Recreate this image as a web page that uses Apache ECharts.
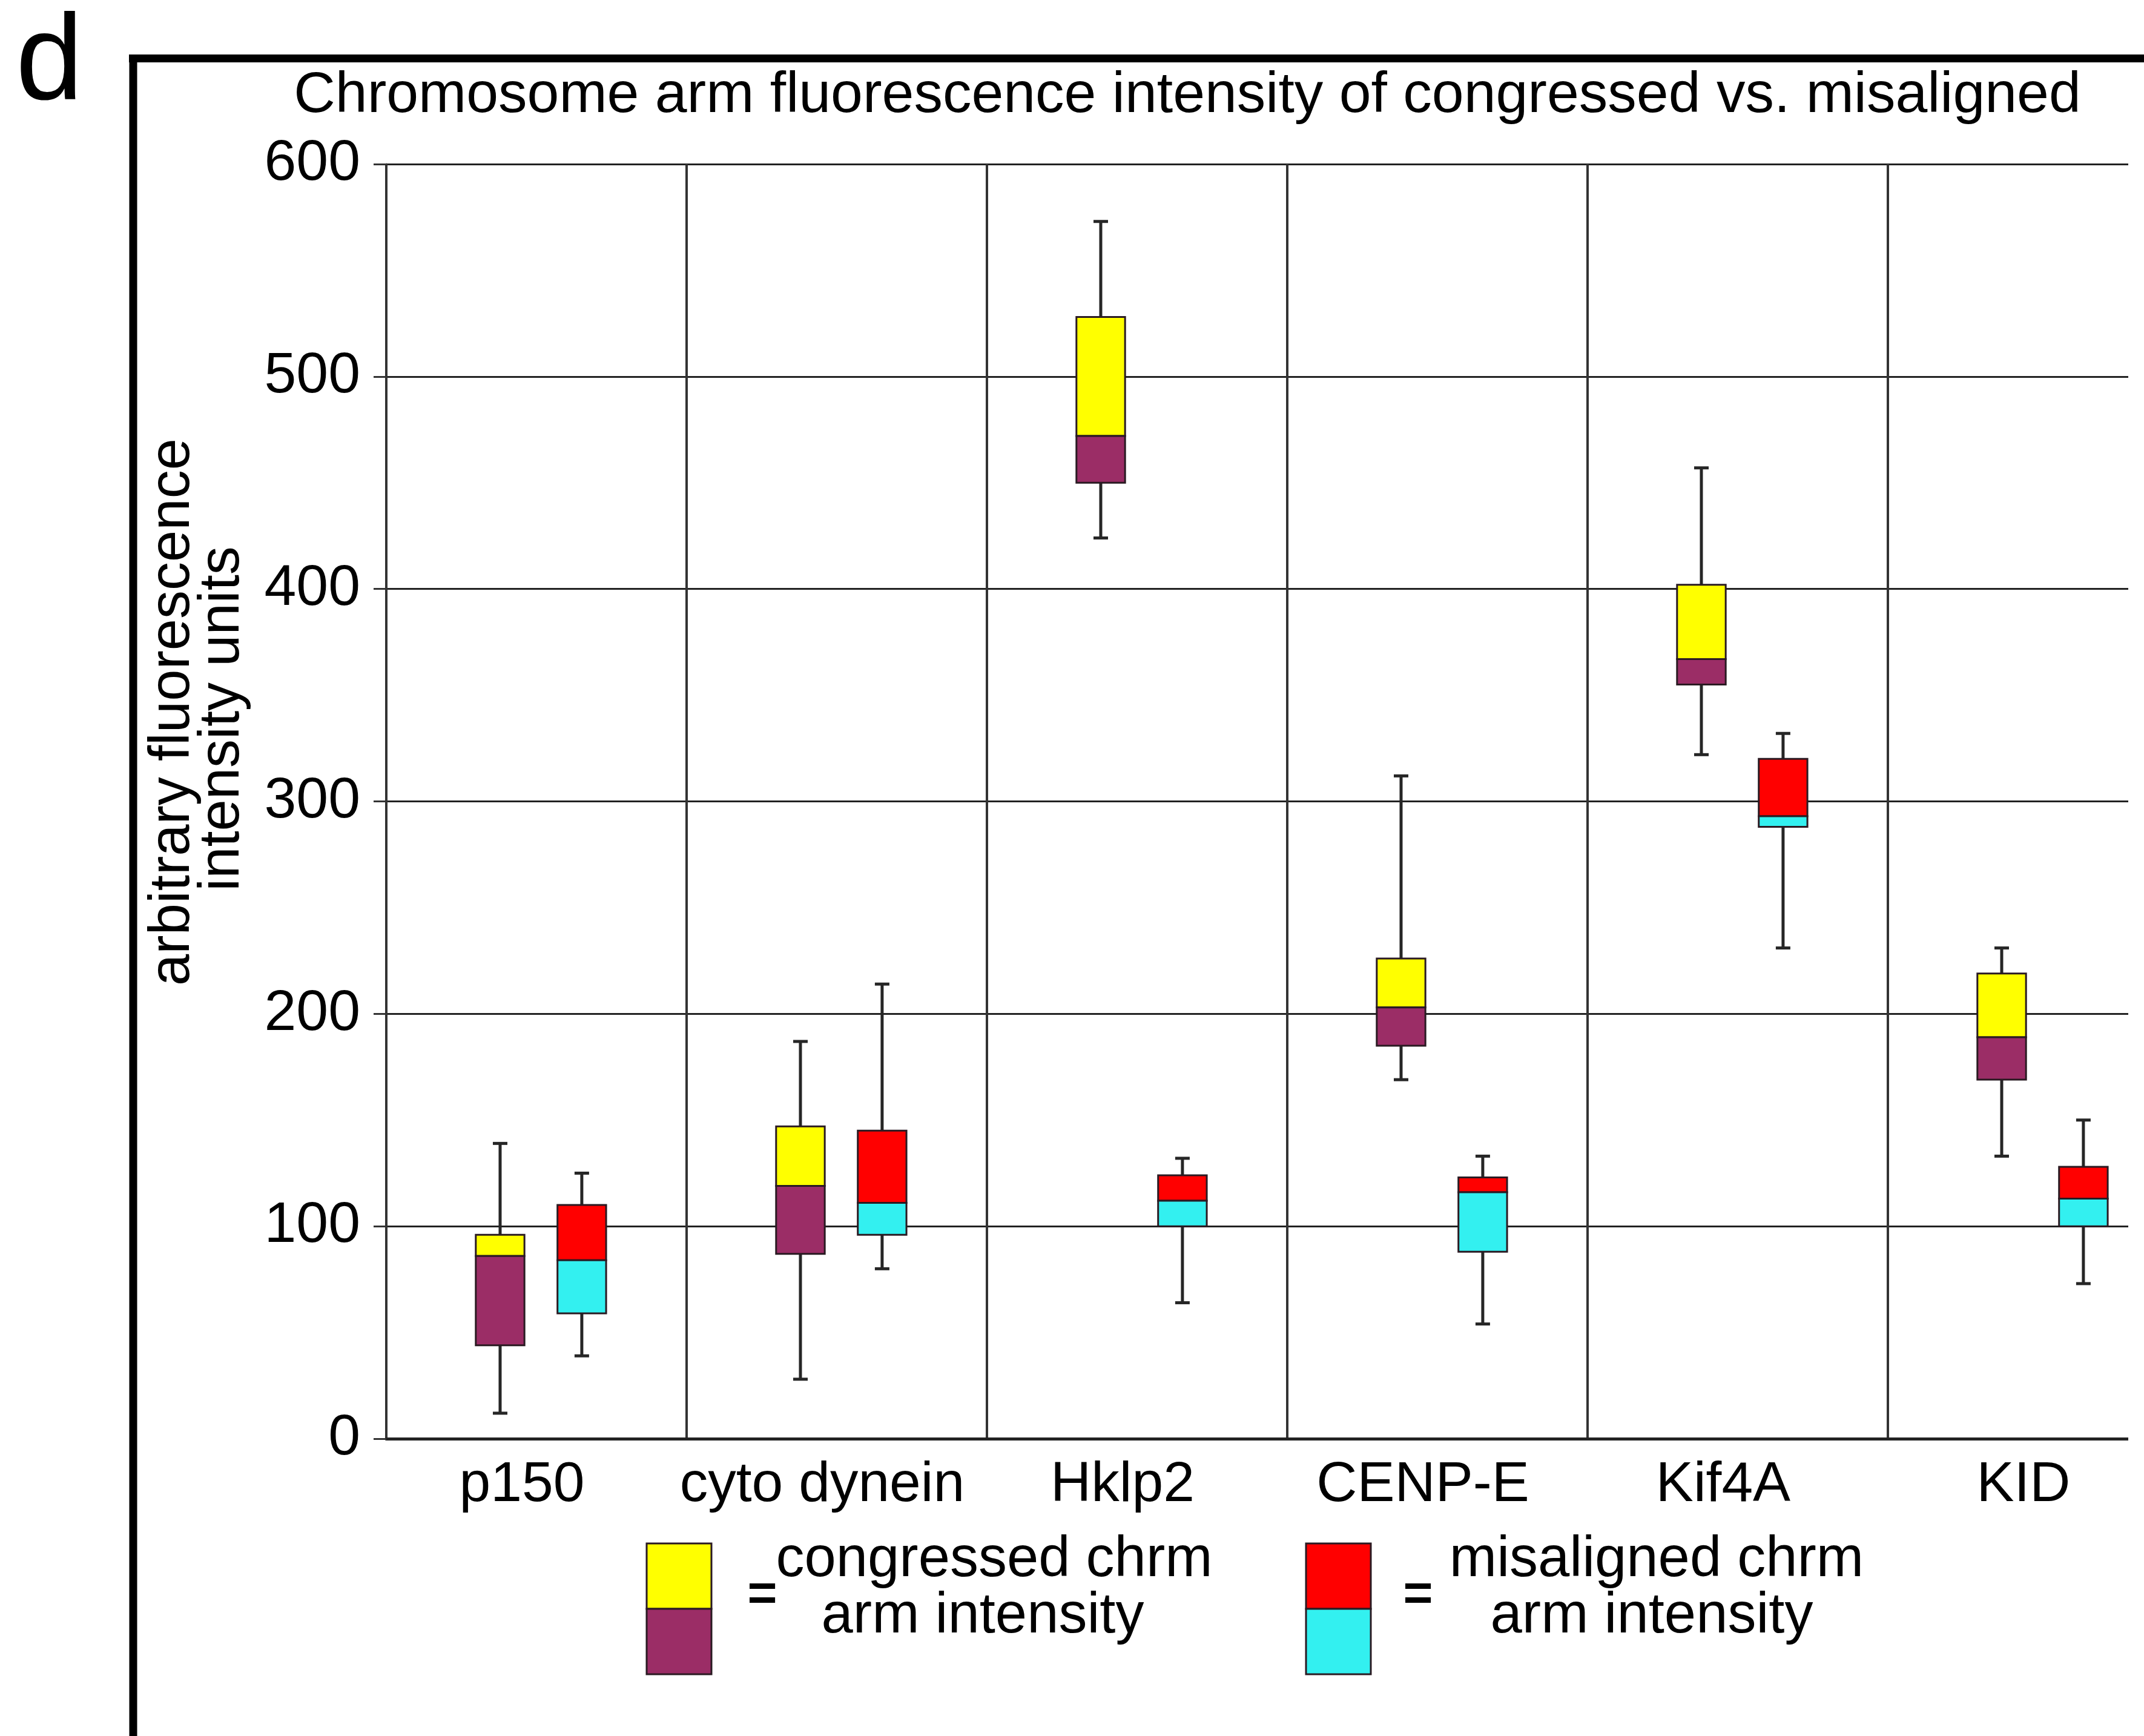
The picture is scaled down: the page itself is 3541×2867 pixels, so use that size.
<!DOCTYPE html>
<html>
<head>
<meta charset="utf-8">
<script src="https://cdn.jsdelivr.net/npm/echarts@6/dist/echarts.min.js"></script>
<style>
html,body{margin:0;padding:0;background:#fff;overflow:hidden;}
#chart{width:3614px;height:2867px;}
</style>
</head>
<body>
<div id="chart"></div>
<script>
// ---- data ----
const categories = ['p150', 'cyto dynein', 'Hklp2', 'CENP-E', 'Kif4A', 'KID'];
// [min, q1, median, q3, max]
const congressed = [
  [12, 44, 86, 96, 139],
  [28, 87, 119, 147, 187],
  [424, 450, 472, 528, 573],
  [169, 185, 203, 226, 312],
  [322, 355, 367, 402, 457],
  [133, 169, 189, 219, 231]
];
const misaligned = [
  [39, 59, 84, 110, 125],
  [80, 96, 111, 145, 214],
  [64, 100, 112, 124, 132],
  [54, 88, 116, 123, 133],
  [231, 288, 293, 320, 332],
  [73, 100, 113, 128, 150]
];
const yTicks = [0, 100, 200, 300, 400, 500, 600];
const titleText = 'Chromosome arm fluorescence intensity of congressed vs. misaligned';
const yNameLines = ['arbitrary fluorescence', 'intensity units'];
const legendLabels = [['congressed chrm', 'arm intensity'], ['misaligned chrm', 'arm intensity']];

// ---- styles ----
const FONT = '"Liberation Sans", Arial, Helvetica, sans-serif';
const colors = {
  congressed: ['#FFFF00', '#9B2D66'],
  misaligned: ['#FF0000', '#33F0F0']
};

function makeRender(offsetFrac, cols) {
  return function (params, api) {
    const ci = api.value(0);
    const band = api.size([1, 0])[0];
    const cx = api.coord([ci, 0])[0] + offsetFrac * band;
    const w = band * 0.162;
    const capW = 24;
    const yMin = api.coord([ci, api.value(1)])[1];
    const yQ1 = api.coord([ci, api.value(2)])[1];
    const yMed = api.coord([ci, api.value(3)])[1];
    const yQ3 = api.coord([ci, api.value(4)])[1];
    const yMax = api.coord([ci, api.value(5)])[1];
    const lineStyle = {stroke: '#262626', lineWidth: 5};
    const boxStroke = '#2a1a22';
    return {
      type: 'group',
      children: [
        {type: 'line', shape: {x1: cx, y1: yMax, x2: cx, y2: yMin}, style: lineStyle},
        {type: 'line', shape: {x1: cx - capW / 2, y1: yMax, x2: cx + capW / 2, y2: yMax}, style: lineStyle},
        {type: 'line', shape: {x1: cx - capW / 2, y1: yMin, x2: cx + capW / 2, y2: yMin}, style: lineStyle},
        {type: 'rect', shape: {x: cx - w / 2, y: yQ3, width: w, height: yMed - yQ3},
          style: {fill: cols[0], stroke: boxStroke, lineWidth: 3}},
        {type: 'rect', shape: {x: cx - w / 2, y: yMed, width: w, height: yQ1 - yMed},
          style: {fill: cols[1], stroke: boxStroke, lineWidth: 3}}
      ]
    };
  };
}

function toData(arr) {
  return arr.map((d, i) => [i].concat(d));
}

const chart = echarts.init(document.getElementById('chart'), null, {renderer: 'canvas'});

function legendItem(x, cols, labels, eqX, textX1, textX2) {
  return [
    {type: 'rect', z: 100, shape: {x: x, y: 2549, width: 107, height: 108},
      style: {fill: cols[0], stroke: '#2a1a22', lineWidth: 3}},
    {type: 'rect', z: 100, shape: {x: x, y: 2657, width: 107, height: 108},
      style: {fill: cols[1], stroke: '#2a1a22', lineWidth: 3}},
    {type: 'text', z: 100, x: eqX, y: 2636,
      style: {text: '=', font: 'bold 84px ' + FONT, fill: '#000', align: 'center', verticalAlign: 'middle'}},
    {type: 'text', z: 100, x: textX1, y: 2577,
      style: {text: labels[0], font: '94px ' + FONT, fill: '#000', align: 'center', verticalAlign: 'middle'}},
    {type: 'text', z: 100, x: textX2, y: 2670,
      style: {text: labels[1], font: '94px ' + FONT, fill: '#000', align: 'center', verticalAlign: 'middle'}}
  ];
}

const option = {
  backgroundColor: '#ffffff',
  animation: false,
  textStyle: {fontFamily: FONT},
  title: {
    text: titleText,
    left: 1956,
    top: 106,
    textAlign: 'center',
    textStyle: {fontSize: 95, fontWeight: 'normal', color: '#000', fontFamily: FONT, lineHeight: 95}
  },
  grid: {left: 638, top: 271, width: 2976, height: 2105, containLabel: false},
  xAxis: {
    type: 'category',
    data: categories,
    boundaryGap: true,
    axisLine: {show: true, lineStyle: {color: '#222', width: 5}},
    axisTick: {show: false},
    splitLine: {show: true, interval: 0, lineStyle: {color: '#333', width: 4}},
    axisLabel: {interval: 0, fontSize: 93, color: '#000', margin: 31, fontFamily: FONT, padding: [0, 48, 0, 0]}
  },
  yAxis: {
    type: 'value',
    min: yTicks[0],
    max: yTicks[yTicks.length - 1],
    interval: 100,
    axisLine: {show: true, lineStyle: {color: '#333', width: 3}},
    axisTick: {show: true, length: 21, lineStyle: {color: '#333', width: 3}},
    splitLine: {show: true, lineStyle: {color: '#222', width: 3}},
    axisLabel: {fontSize: 95, color: '#000', margin: 43, fontFamily: FONT}
  },
  series: [
    {
      name: 'congressed',
      type: 'custom',
      renderItem: makeRender(-0.121, colors.congressed),
      encode: {x: 0, y: [1, 2, 3, 4, 5]},
      data: toData(congressed),
      z: 5
    },
    {
      name: 'misaligned',
      type: 'custom',
      renderItem: makeRender(0.151, colors.misaligned),
      encode: {x: 0, y: [1, 2, 3, 4, 5]},
      data: toData(misaligned),
      z: 5
    }
  ],
  graphic: {
    elements: [
      // white strip: the original figure is cropped at its right edge
      {type: 'rect', z: 90, shape: {x: 3515, y: 200, width: 120, height: 2250}, style: {fill: '#fff'}},
      // panel frame
      {type: 'line', z: 100, shape: {x1: 213, y1: 96.5, x2: 3614, y2: 96.5}, style: {stroke: '#000', lineWidth: 13}},
      {type: 'line', z: 100, shape: {x1: 220, y1: 90, x2: 220, y2: 2867}, style: {stroke: '#000', lineWidth: 13}},
      // panel letter
      {type: 'text', z: 100, x: 26, y: 108,
        style: {text: 'd', font: '200px ' + FONT, fill: '#000', align: 'left', verticalAlign: 'middle'}},
      // y-axis name
      {type: 'group', z: 100, x: 326, y: 1180, rotation: Math.PI / 2, children: [
        {type: 'text', z: 100, x: 4, y: -40,
          style: {text: yNameLines[0], font: '94px ' + FONT, fill: '#000', align: 'center', verticalAlign: 'middle'}},
        {type: 'text', z: 100, x: -7, y: 42,
          style: {text: yNameLines[1], font: '94px ' + FONT, fill: '#000', align: 'center', verticalAlign: 'middle'}}
      ]}
    ]
      .concat(legendItem(1068, colors.congressed, legendLabels[0], 1259, 1642, 1623))
      .concat(legendItem(2157, colors.misaligned, legendLabels[1], 2342, 2736, 2728))
  }
};
chart.setOption(option);
</script>
</body>
</html>
